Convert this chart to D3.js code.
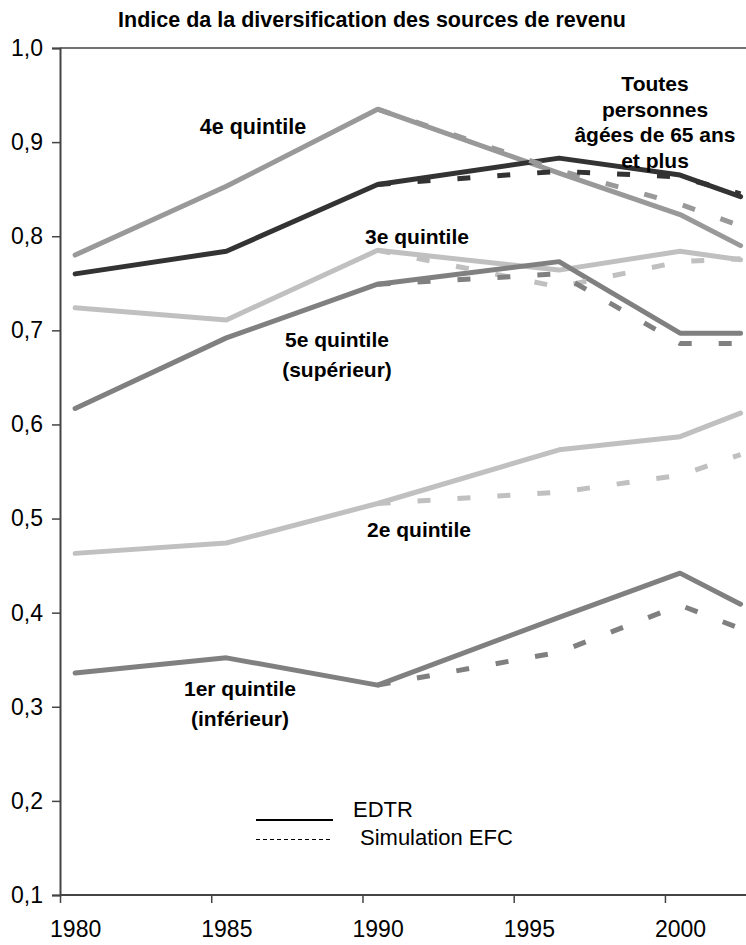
<!DOCTYPE html>
<html>
<head>
<meta charset="utf-8">
<script src="https://cdn.jsdelivr.net/npm/d3@7"></script>
<style>
  html, body { margin: 0; padding: 0; background: #fff; }
  svg { display: block; font-family: "Liberation Sans", Arial, sans-serif; }
</style>
</head>
<body>
<svg id="chart" width="746" height="945"></svg>
<script>
// ---- Data ----
const years = [1980, 1985, 1990, 1996, 2000, 2002];
const simYears = [1990, 1996, 2000, 2002];

const q1 = [0.336, 0.352, 0.323, 0.395, 0.442, 0.409];
const q1Sim = [0.323, 0.358, 0.408, 0.383];
const q2 = [0.463, 0.474, 0.516, 0.573, 0.587, 0.612];
const q2Sim = [0.516, 0.528, 0.546, 0.568];
const q3 = [0.724, 0.711, 0.785, 0.764, 0.784, 0.775];
const q3Sim = [0.785, 0.746, 0.773, 0.776];
const q4 = [0.780, 0.853, 0.935, 0.867, 0.823, 0.790];
const q4Sim = [0.935, 0.870, 0.834, 0.811];
const q5 = [0.617, 0.692, 0.749, 0.773, 0.697, 0.697];
const q5Sim = [0.749, 0.760, 0.686, 0.686];
const allAges = [0.760, 0.784, 0.855, 0.883, 0.865, 0.842];
const allAgesSim = [0.855, 0.869, 0.863, 0.845];

const xTicks = [1980, 1985, 1990, 1995, 2000];
const yTicks = [0.1, 0.2, 0.3, 0.4, 0.5, 0.6, 0.7, 0.8, 0.9, 1.0];

const title = "Indice da la diversification des sources de revenu";
const legendLabels = ["EDTR", "Simulation EFC"];

(function () {
// ---- Series definitions (draw order) ----
const series = [
  { name: "3e", vals: q3, sim: q3Sim, color: "#c0c0c0" },
  { name: "2e", vals: q2, sim: q2Sim, color: "#c0c0c0" },
  { name: "4e", vals: q4, sim: q4Sim, color: "#999999" },
  { name: "1er", vals: q1, sim: q1Sim, color: "#808080" },
  { name: "5e", vals: q5, sim: q5Sim, color: "#808080" },
  { name: "all", vals: allAges, sim: allAgesSim, color: "#333333" }
];

const svg = d3.select("#chart");
const pL = 60, pR = 746, pT = 48, pB = 895;

const x = d3.scaleLinear().domain([1980, 2002.68]).range([pL, pR]);
const y = d3.scaleLinear().domain([0.1, 1.0]).range([pB, pT]);
const mid = 0.5; // values (and year labels) sit at mid-year
const labelShift = x(1980 + mid) - x(1980);

// Title
svg.append("text")
  .attr("x", 372).attr("y", 27)
  .attr("text-anchor", "middle")
  .attr("font-weight", "bold")
  .attr("font-size", 21.5)
  .attr("fill", "#000")
  .text(title);

// Top border of plot area
svg.append("line")
  .attr("x1", pL).attr("x2", pR)
  .attr("y1", pT).attr("y2", pT)
  .attr("stroke", "#444").attr("stroke-width", 1.5);

// Axes
const fmt = d => d3.format(".1f")(d).replace(".", ",");
const yAxis = svg.append("g")
  .attr("transform", `translate(${pL},0)`)
  .call(d3.axisLeft(y).tickValues(yTicks).tickFormat(fmt).tickSize(8).tickPadding(9));
const xAxis = svg.append("g")
  .attr("transform", `translate(0,${pB})`)
  .call(d3.axisBottom(x).tickValues(xTicks).tickFormat(d3.format("d")).tickSize(8).tickPadding(18));

[yAxis, xAxis].forEach(g => {
  g.select(".domain").attr("stroke", "#444").attr("stroke-width", 2);
  g.selectAll(".tick line").attr("stroke", "#444").attr("stroke-width", 1.5);
  g.selectAll(".tick text")
    .attr("font-size", 23)
    .attr("font-family", "'Liberation Sans', Arial, sans-serif")
    .attr("fill", "#000");
});
xAxis.select(".domain").attr("d", `M${pL},0H${pR}`);
xAxis.selectAll(".tick text").attr("x", labelShift);

// Lines
const line = d3.line().x(d => x(d[0] + mid)).y(d => y(d[1]));

series.forEach(s => {
  svg.append("path")
    .datum(years.map((yr, i) => [yr, s.vals[i]]))
    .attr("d", line)
    .attr("fill", "none")
    .attr("stroke", s.color)
    .attr("stroke-width", 5)
    .attr("stroke-linejoin", "round")
    .attr("stroke-linecap", "round");
});
series.forEach(s => {
  svg.append("path")
    .datum(simYears.map((yr, i) => [yr, s.sim[i]]))
    .attr("d", line)
    .attr("fill", "none")
    .attr("stroke", s.color)
    .attr("stroke-width", 5)
    .attr("stroke-dasharray", "13,27")
    .attr("stroke-linecap", "butt");
});

// Series labels
const labels = [
  { lines: ["4e quintile"], x: 253, y: 134, fs: 21.5 },
  { lines: ["3e quintile"], x: 417, y: 244 },
  { lines: ["5e quintile", "(supérieur)"], x: 337, y: 347 },
  { lines: ["2e quintile"], x: 419, y: 537 },
  { lines: ["1er quintile", "(inférieur)"], x: 240, y: 696 },
  { lines: ["Toutes", "personnes", "âgées de 65 ans", "et plus"], x: 655, y: 91, lh: 25.5 }
];
labels.forEach(l => {
  const t = svg.append("text")
    .attr("text-anchor", "middle")
    .attr("font-weight", "bold")
    .attr("font-size", l.fs || 21)
    .attr("fill", "#000");
  l.lines.forEach((txt, i) => {
    t.append("tspan").attr("x", l.x).attr("y", l.y + i * (l.lh || 30)).text(txt);
  });
});

// Legend
const lg = svg.append("g");
lg.append("line").attr("x1", 256).attr("x2", 333).attr("y1", 820).attr("y2", 820)
  .attr("stroke", "#000").attr("stroke-width", 2);
lg.append("line").attr("x1", 256).attr("x2", 333).attr("y1", 839.5).attr("y2", 839.5)
  .attr("stroke", "#000").attr("stroke-width", 1).attr("stroke-dasharray", "4,3");
lg.append("text").attr("x", 353).attr("y", 817).attr("font-size", 22).text(legendLabels[0]);
lg.append("text").attr("x", 360).attr("y", 845).attr("font-size", 22).text(legendLabels[1]);
})();
</script>
</body>
</html>
